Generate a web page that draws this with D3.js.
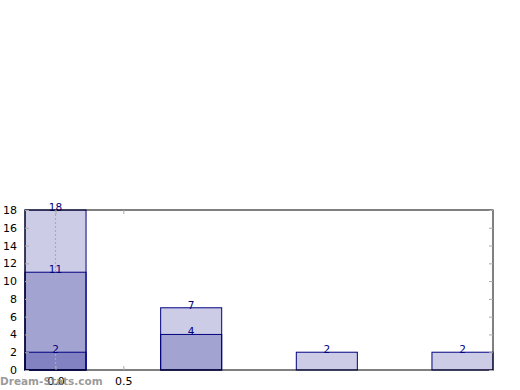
<!DOCTYPE html>
<html><head><meta charset="utf-8">
<script src="https://cdn.jsdelivr.net/npm/d3@7"></script>
<style>body{margin:0;background:#fff}svg{display:block}</style>
</head><body>
<svg id="c" width="520" height="390"></svg>
<script>
const categories = [0, 1, 2, 3];
const seriesA = [18, 7, 2, 2];
const seriesB = [11, 4, null, null];
const seriesC = [2, null, null, null];
const yTicks = [0, 2, 4, 6, 8, 10, 12, 14, 16, 18];
const xTicks = [0.0, 0.5];

(function () {
const svg = d3.select("#c");
const pLeft = 25, pRight = 493, pTop = 210, pBottom = 370;
const barW = 0.45;
const x = d3.scaleLinear().domain([-0.225, 3.225]).range([pLeft, pRight]);
const y = d3.scaleLinear().domain([0, 18]).range([pBottom, pTop]);
const font = "DejaVu Sans, sans-serif";

const allSeries = [seriesA, seriesB, seriesC];
allSeries.forEach(s => {
  svg.append("g").selectAll("rect")
    .data(categories.map((c, i) => ({c, v: s[i]})).filter(d => d.v != null))
    .join("rect")
    .attr("x", d => x(d.c - barW / 2))
    .attr("width", d => x(d.c + barW / 2) - x(d.c - barW / 2))
    .attr("y", d => y(d.v))
    .attr("height", d => y(0) - y(d.v))
    .attr("fill", "navy").attr("fill-opacity", 0.2)
    .attr("stroke", "navy").attr("stroke-width", 1);
});

svg.append("line")
  .attr("x1", x(0)).attr("x2", x(0))
  .attr("y1", y(18)).attr("y2", y(0))
  .attr("stroke", "#aaa").attr("stroke-width", 1.2).attr("stroke-dasharray", "2,2");

allSeries.forEach(s => {
  svg.append("g").selectAll("text")
    .data(categories.map((c, i) => ({c, v: s[i]})).filter(d => d.v != null))
    .join("text")
    .attr("x", d => x(d.c)).attr("y", d => y(d.v) + 1)
    .attr("text-anchor", "middle")
    .attr("font-family", font).attr("font-size", 10.5)
    .attr("fill", "navy").text(d => d.v);
});

svg.append("rect").attr("x", pLeft).attr("y", pTop)
  .attr("width", pRight - pLeft).attr("height", pBottom - pTop)
  .attr("fill", "none").attr("stroke", "#000").attr("stroke-width", 1);

const yAxisL = d3.axisLeft(y).tickValues(yTicks).tickSize(-4).tickPadding(8).tickFormat(d3.format("d"));
const gl = svg.append("g").attr("transform", `translate(${pLeft},0)`).call(yAxisL);
gl.select(".domain").remove();
gl.selectAll(".tick line").attr("stroke", "#aaa");
gl.selectAll(".tick text").attr("font-family", font).attr("font-size", 11).attr("fill", "#000");
const yAxisR = d3.axisRight(y).tickValues(yTicks).tickSize(-4).tickFormat("");
const gr = svg.append("g").attr("transform", `translate(${pRight},0)`).call(yAxisR);
gr.select(".domain").remove();
gr.selectAll(".tick line").attr("stroke", "#aaa");

const xAxisB = d3.axisBottom(x).tickValues(xTicks).tickSize(-4).tickPadding(7).tickFormat(d3.format(".1f"));
const gb = svg.append("g").attr("transform", `translate(0,${pBottom})`).call(xAxisB);
gb.select(".domain").remove();
gb.selectAll(".tick line").attr("stroke", "#aaa");
gb.selectAll(".tick text").attr("font-family", font).attr("font-size", 11).attr("fill", "#000");
const xAxisT = d3.axisTop(x).tickValues(xTicks).tickSize(-4).tickFormat("");
const gt = svg.append("g").attr("transform", `translate(0,${pTop})`).call(xAxisT);
gt.select(".domain").remove();
gt.selectAll(".tick line").attr("stroke", "#aaa");

svg.append("text").attr("x", 0).attr("y", 385)
  .attr("font-family", font).attr("font-size", 10.5).attr("font-weight", "bold")
  .attr("fill", "#888").attr("fill-opacity", 0.85).text("Dream-Stats.com");
})();
</script>
</body></html>
